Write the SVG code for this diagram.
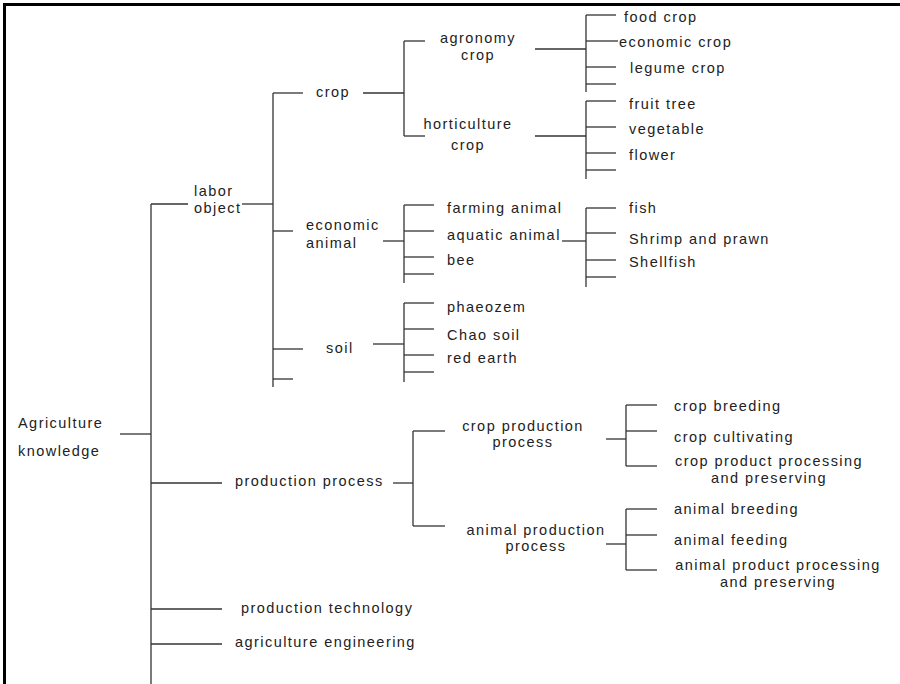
<svg xmlns="http://www.w3.org/2000/svg" width="900" height="684" viewBox="0 0 900 684">
<style>
text{font-family:"Liberation Sans",Arial,sans-serif;font-size:14.5px;letter-spacing:1.45px;fill:#222}
.m{text-anchor:middle}
#connectors line{stroke:#333;stroke-width:1.3;fill:none}
.frame{stroke:#000;stroke-width:3}
</style>
<rect width="900" height="684" fill="#fff"/>
<line class="frame" x1="4.5" y1="3" x2="4.5" y2="684"/>
<line class="frame" x1="3" y1="4.5" x2="900" y2="4.5"/>
<g id="connectors">
<line x1="120" y1="434" x2="151" y2="434"/>
<line x1="151" y1="204" x2="151" y2="684"/>
<line x1="151" y1="204" x2="188" y2="204"/>
<line x1="242" y1="204" x2="273" y2="204"/>
<line x1="151" y1="483" x2="222" y2="483"/>
<line x1="151" y1="609" x2="222" y2="609"/>
<line x1="151" y1="644" x2="222" y2="644"/>
<line x1="273" y1="93" x2="273" y2="387"/>
<line x1="273" y1="93" x2="303" y2="93"/>
<line x1="273" y1="231" x2="293" y2="231"/>
<line x1="273" y1="349" x2="303" y2="349"/>
<line x1="273" y1="379" x2="293" y2="379"/>
<line x1="363" y1="93" x2="404" y2="93"/>
<line x1="404" y1="41" x2="404" y2="136"/>
<line x1="404" y1="41" x2="425" y2="41"/>
<line x1="404" y1="136" x2="425" y2="136"/>
<line x1="383" y1="241" x2="404" y2="241"/>
<line x1="404" y1="205" x2="404" y2="283"/>
<line x1="404" y1="205" x2="434" y2="205"/>
<line x1="404" y1="231" x2="434" y2="231"/>
<line x1="404" y1="257" x2="434" y2="257"/>
<line x1="404" y1="274" x2="434" y2="274"/>
<line x1="373" y1="344" x2="404" y2="344"/>
<line x1="404" y1="303" x2="404" y2="382"/>
<line x1="404" y1="303" x2="434" y2="303"/>
<line x1="404" y1="329" x2="434" y2="329"/>
<line x1="404" y1="355" x2="434" y2="355"/>
<line x1="404" y1="372" x2="434" y2="372"/>
<line x1="535" y1="49" x2="586" y2="49"/>
<line x1="586" y1="15" x2="586" y2="92"/>
<line x1="586" y1="15" x2="616" y2="15"/>
<line x1="586" y1="41" x2="618" y2="41"/>
<line x1="586" y1="67" x2="616" y2="67"/>
<line x1="586" y1="84" x2="616" y2="84"/>
<line x1="535" y1="136" x2="586" y2="136"/>
<line x1="586" y1="101" x2="586" y2="179"/>
<line x1="586" y1="101" x2="616" y2="101"/>
<line x1="586" y1="127" x2="616" y2="127"/>
<line x1="586" y1="153" x2="616" y2="153"/>
<line x1="586" y1="170" x2="616" y2="170"/>
<line x1="562" y1="241" x2="586" y2="241"/>
<line x1="586" y1="208" x2="586" y2="287"/>
<line x1="586" y1="208" x2="616" y2="208"/>
<line x1="586" y1="233" x2="616" y2="233"/>
<line x1="586" y1="260" x2="616" y2="260"/>
<line x1="586" y1="277" x2="616" y2="277"/>
<line x1="393" y1="483" x2="413" y2="483"/>
<line x1="413" y1="431" x2="413" y2="526"/>
<line x1="413" y1="431" x2="445" y2="431"/>
<line x1="413" y1="526" x2="445" y2="526"/>
<line x1="606" y1="439" x2="626" y2="439"/>
<line x1="626" y1="405" x2="626" y2="466"/>
<line x1="626" y1="405" x2="657" y2="405"/>
<line x1="626" y1="431" x2="657" y2="431"/>
<line x1="626" y1="466" x2="657" y2="466"/>
<line x1="606" y1="544" x2="626" y2="544"/>
<line x1="626" y1="509" x2="626" y2="570"/>
<line x1="626" y1="509" x2="657" y2="509"/>
<line x1="626" y1="535" x2="657" y2="535"/>
<line x1="626" y1="570" x2="657" y2="570"/>
</g>
<g id="agriculture-knowledge"><text x="18" y="428">Agriculture</text><text x="18" y="456">knowledge</text></g>
<g id="labor-object"><text x="194" y="196">labor</text><text x="194" y="213">object</text></g>
<g id="crop"><text x="316" y="97">crop</text></g>
<g id="economic-animal"><text x="306" y="230">economic</text><text x="306" y="248">animal</text></g>
<g id="soil"><text x="326" y="353">soil</text></g>
<g id="agronomy-crop"><text class="m" x="478" y="43">agronomy</text><text class="m" x="478" y="60">crop</text></g>
<g id="horticulture-crop"><text class="m" x="468" y="129">horticulture</text><text class="m" x="468" y="150">crop</text></g>
<g id="food-crop"><text x="624" y="22">food crop</text></g>
<g id="economic-crop"><text x="619" y="47">economic crop</text></g>
<g id="legume-crop"><text x="630" y="73">legume crop</text></g>
<g id="fruit-tree"><text x="629" y="109">fruit tree</text></g>
<g id="vegetable"><text x="629" y="134">vegetable</text></g>
<g id="flower"><text x="629" y="160">flower</text></g>
<g id="farming-animal"><text x="447" y="213">farming animal</text></g>
<g id="aquatic-animal"><text x="447" y="240">aquatic animal</text></g>
<g id="bee"><text x="447" y="265">bee</text></g>
<g id="fish"><text x="629" y="213">fish</text></g>
<g id="shrimp"><text x="629" y="244">Shrimp and prawn</text></g>
<g id="shellfish"><text x="629" y="267">Shellfish</text></g>
<g id="phaeozem"><text x="447" y="312">phaeozem</text></g>
<g id="chao-soil"><text x="447" y="340">Chao soil</text></g>
<g id="red-earth"><text x="447" y="363">red earth</text></g>
<g id="production-process"><text x="235" y="486">production process</text></g>
<g id="crop-production-process"><text class="m" x="523" y="431">crop production</text><text class="m" x="523" y="447">process</text></g>
<g id="animal-production-process"><text class="m" x="536" y="535">animal production</text><text class="m" x="536" y="551">process</text></g>
<g id="crop-breeding"><text x="674" y="411">crop breeding</text></g>
<g id="crop-cultivating"><text x="674" y="442">crop cultivating</text></g>
<g id="crop-product-processing"><text class="m" x="769" y="466">crop product processing</text><text class="m" x="769" y="483">and preserving</text></g>
<g id="animal-breeding"><text x="674" y="514">animal breeding</text></g>
<g id="animal-feeding"><text x="674" y="545">animal feeding</text></g>
<g id="animal-product-processing"><text class="m" x="778" y="570">animal product processing</text><text class="m" x="778" y="587">and preserving</text></g>
<g id="production-technology"><text x="241" y="613">production technology</text></g>
<g id="agriculture-engineering"><text x="235" y="647">agriculture engineering</text></g>
</svg>
